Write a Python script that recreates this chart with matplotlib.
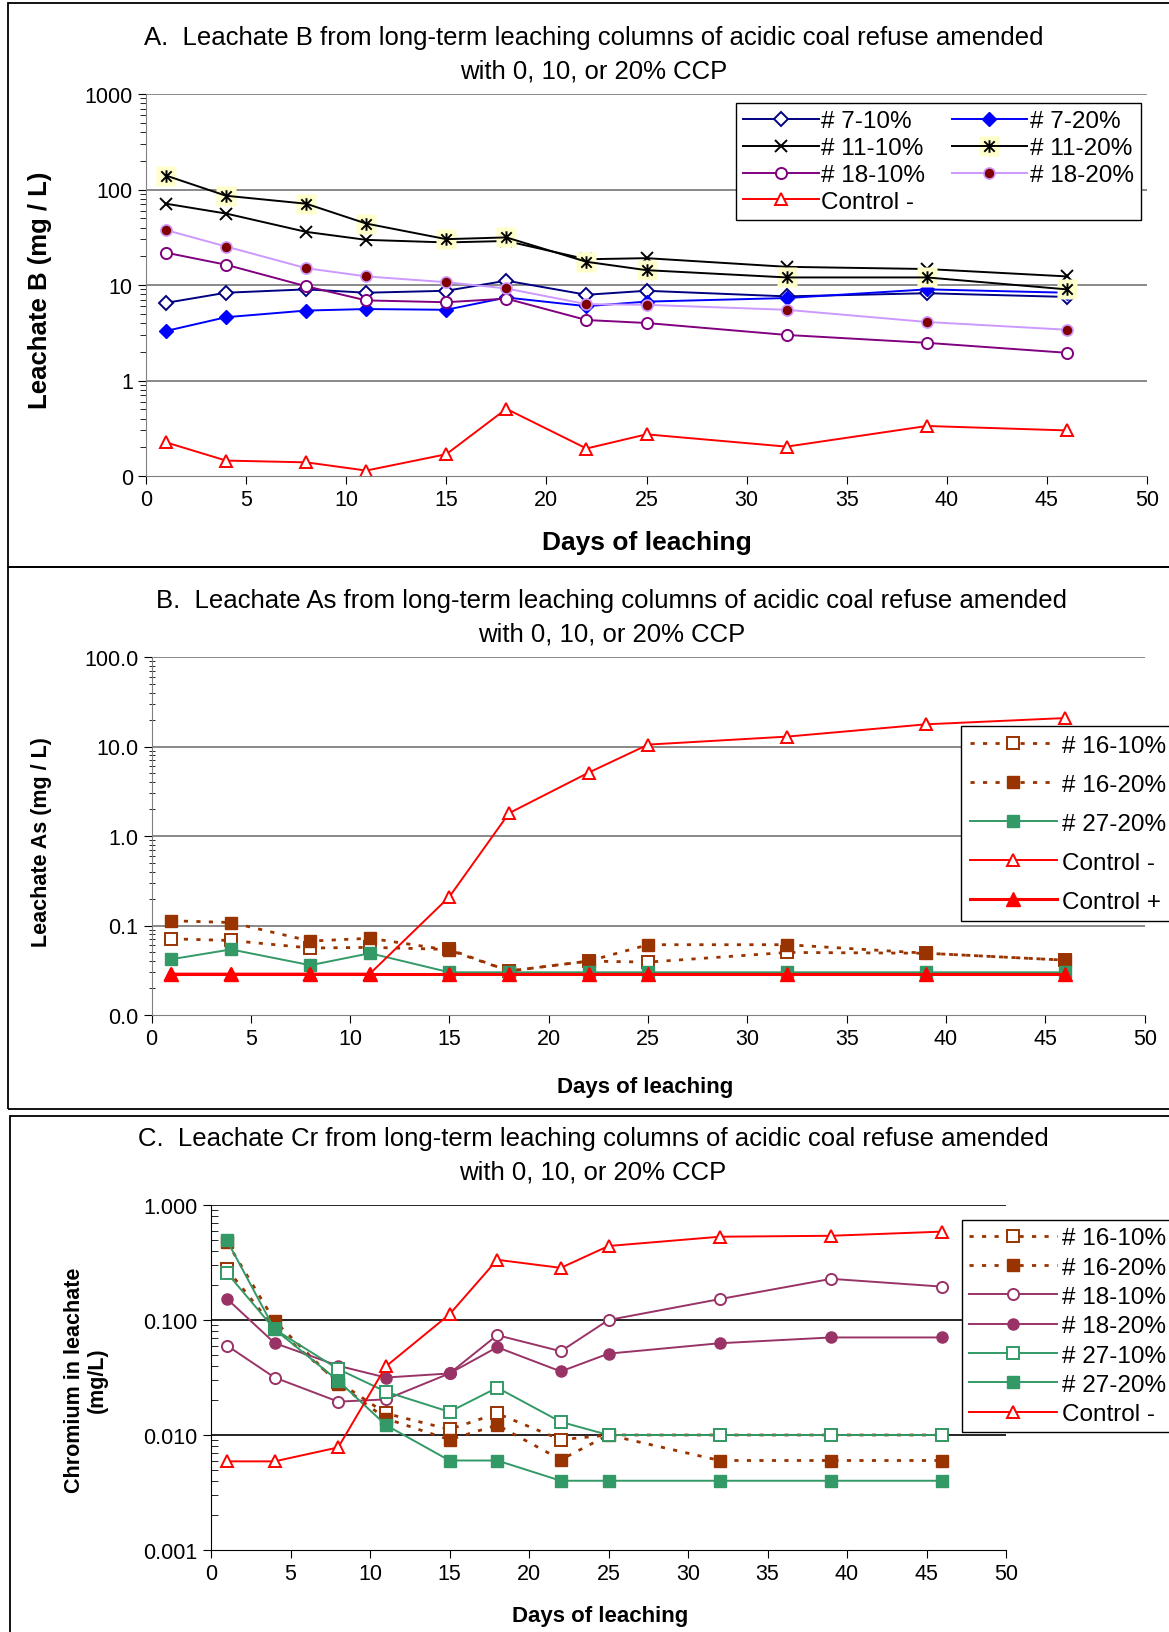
import numpy as np
import matplotlib.pyplot as plt
from matplotlib.path import Path
from matplotlib.patches import Rectangle
from matplotlib.legend_handler import HandlerTuple

plt.rcParams['font.family'] = ['Liberation Sans', 'DejaVu Sans']

# Data (days of leaching)
days = [1, 4, 8, 11, 15, 18, 22, 25, 32, 39, 46]

# Panel A - leachate B (mg/L)
a_7_10 = [6.5, 8.3, 9.0, 8.3, 8.7, 11.1, 7.9, 8.7, 7.6, 8.2, 7.5]
a_7_20 = [3.3, 4.6, 5.4, 5.6, 5.5, 7.4, 6.0, 6.7, 7.3, 9.0, 8.3]
a_11_10 = [71, 56, 36, 29.7, 27.9, 28.9, 18.6, 19.1, 15.5, 14.7, 12.3]
a_11_20 = [140, 86, 71, 44, 30.2, 31.5, 17.5, 14.3, 12.0, 12.0, 9.0]
a_18_10 = [21.8, 16.3, 9.7, 6.9, 6.6, 7.2, 4.3, 4.0, 3.0, 2.48, 1.95]
a_18_20 = [37.6, 25.3, 15.0, 12.3, 10.7, 9.2, 6.3, 6.2, 5.5, 4.1, 3.4]
a_ctrl_neg = [0.225, 0.145, 0.139, 0.114, 0.169, 0.505, 0.194, 0.273, 0.203, 0.334, 0.30]

# Panel B - leachate As (mg/L)
b_16_10 = [0.071, 0.068, 0.056, 0.057, 0.054, 0.031, 0.040, 0.039, 0.050, 0.049, 0.041]
b_16_20 = [0.113, 0.108, 0.067, 0.072, 0.053, 0.031, 0.040, 0.061, 0.061, 0.049, 0.041]
b_27_20 = [0.042, 0.054, 0.036, 0.049, 0.030, 0.030, 0.030, 0.030, 0.030, 0.030, 0.030]
b_ctrl_neg = [0.029, 0.029, 0.029, 0.029, 0.21, 1.8, 5.1, 10.5, 12.9, 17.7, 20.8]
b_ctrl_pos = [0.029, 0.029, 0.029, 0.029, 0.029, 0.029, 0.029, 0.029, 0.029, 0.029, 0.029]

# Panel C - chromium in leachate (mg/L)
c_16_10 = [0.278, 0.085, 0.029, 0.0154, 0.0112, 0.0154, 0.0091, 0.010, 0.010, 0.010, 0.010]
c_16_20 = [0.477, 0.098, 0.028, 0.0139, 0.0091, 0.0122, 0.0061, 0.010, 0.006, 0.006, 0.006]
c_18_10 = [0.060, 0.0316, 0.0195, 0.0204, 0.0343, 0.0738, 0.0535, 0.100, 0.152, 0.228, 0.195]
c_18_20 = [0.153, 0.063, 0.040, 0.0316, 0.0343, 0.058, 0.0357, 0.051, 0.0628, 0.0705, 0.0705]
c_27_10 = [0.257, 0.083, 0.0374, 0.0238, 0.0159, 0.0258, 0.013, 0.010, 0.010, 0.010, 0.010]
c_27_20 = [0.493, 0.083, 0.0296, 0.0122, 0.006, 0.006, 0.004, 0.004, 0.004, 0.004, 0.004]
c_ctrl_neg = [0.0059, 0.0059, 0.0078, 0.0395, 0.112, 0.334, 0.284, 0.44, 0.53, 0.54, 0.587]

W, H = 1169, 1633
fig = plt.figure(figsize=(W / 100, H / 100), dpi=100)

# panel frames
for (x0, y0, x1, y1) in [(8, 4, 1175, 568), (8, 568, 1175, 1110), (10, 1117, 1175, 1640)]:
    fig.patches.append(Rectangle((x0 / W, 1 - y1 / H), (x1 - x0) / W, (y1 - y0) / H,
                                 transform=fig.transFigure, fill=False, ec='black', lw=1.3))


def make_axes(px0, px1, py_top, py_bot):
    ax = fig.add_axes([px0 / W, 1 - py_bot / H, (px1 - px0) / W, (py_bot - py_top) / H])
    ax.set_yscale('log')
    ax.set_xlim(0, 50)
    ax.set_xticks(range(0, 51, 5))
    ax.spines['top'].set_visible(False)
    ax.spines['right'].set_visible(False)
    ax.tick_params(axis='both', which='major', labelsize=15.5, length=6, direction='out')
    return ax


star = Path([(-1, -1), (1, 1), (-1, 1), (1, -1), (0, -1.2), (0, 1.2)],
            [Path.MOVETO, Path.LINETO, Path.MOVETO, Path.LINETO, Path.MOVETO, Path.LINETO])

title_kw = dict(ha='center', va='center', fontsize=18.5, linespacing=1.5)

# ---------------- Panel A ----------------
ax = make_axes(146, 1147, 95, 477)
ax.set_ylim(0.1, 1000)
yt = [0.1, 1, 10, 100, 1000]
ax.set_yticks(yt, ['0', '1', '10', '100', '1000'])
ax.tick_params(axis='y', which='minor', length=4, direction='out')
ax.yaxis.set_minor_formatter(plt.NullFormatter())
for v in yt[1:]:
    ax.axhline(v, color='#808080', lw=1.3, zorder=1)
ax.spines['left'].set_color('#808080')
ax.spines['bottom'].set_color('#808080')

lw = 1.4
h1, = ax.plot(days, a_7_10, color='#000080', lw=lw, marker='D', ms=7, mfc='white', mec='#000080', mew=1.4)
h2, = ax.plot(days, a_7_20, color='#0000FF', lw=lw, marker='D', ms=7, mfc='#0000FF', mec='#0000FF')
h3, = ax.plot(days, a_11_10, color='black', lw=lw, marker='x', ms=9, mew=1.4)
bg, = ax.plot(days, a_11_20, ls='none', marker='s', ms=15, mfc='#FFFFCC', mec='none', zorder=3)
h4, = ax.plot(days, a_11_20, color='black', lw=lw, marker=star, ms=9, mew=1.4, mfc='none', mec='black', zorder=4)
h5, = ax.plot(days, a_18_10, color='#800080', lw=lw, marker='o', ms=8, mfc='white', mec='#800080', mew=1.4)
h6, = ax.plot(days, a_18_20, color='#CC99FF', lw=lw, marker='o', ms=8, mfc='#800000', mec='#CC99FF', mew=1.2)
h7, = ax.plot(days, a_ctrl_neg, color='#FF0000', lw=lw, marker='^', ms=9, mfc='white', mec='#FF0000', mew=1.4)

ax.legend([h1, h3, h5, h7, h2, (bg, h4), h6],
          ['# 7-10%', '# 11-10%', '# 18-10%', 'Control -', '# 7-20%', '# 11-20%', '# 18-20%'],
          handler_map={tuple: HandlerTuple(ndivide=1)},
          ncol=2, loc='upper left', bbox_to_anchor=(736 / W, 1 - 104 / H), bbox_transform=fig.transFigure,
          fontsize=17.5, frameon=True, fancybox=False, framealpha=1, edgecolor='black',
          handlelength=3.1, handletextpad=0.1, labelspacing=0.2, columnspacing=1.1, borderpad=0.3,
          borderaxespad=0)
fig.text(594 / W, 1 - 55 / H, 'A.  Leachate B from long-term leaching columns of acidic coal refuse amended\n'
         'with 0, 10, or 20% CCP', **title_kw)
fig.text(647 / W, 1 - 543 / H, 'Days of leaching', ha='center', va='center', fontsize=19, fontweight='bold')
fig.text(40 / W, 1 - 290 / H, 'Leachate B (mg / L)', ha='center', va='center', rotation=90,
         fontsize=18.5, fontweight='bold')

# ---------------- Panel B ----------------
ax = make_axes(151.5, 1144.7, 658, 1016)
ax.set_ylim(0.01, 100)
yt = [0.01, 0.1, 1, 10, 100]
ax.set_yticks(yt, ['0.0', '0.1', '1.0', '10.0', '100.0'])
ax.tick_params(axis='y', which='minor', length=5, direction='inout')
ax.yaxis.set_minor_formatter(plt.NullFormatter())
for v in yt[1:]:
    ax.axhline(v, color='#808080', lw=1.3, zorder=1)
ax.spines['left'].set_color('#808080')
ax.spines['bottom'].set_color('#808080')

dot = (0, (1.5, 3))
g1, = ax.plot(days, b_16_10, color='#993300', lw=2, ls=dot, marker='s', ms=8, mfc='white', mec='#993300', mew=1.4)
g2, = ax.plot(days, b_16_20, color='#993300', lw=2, ls=dot, marker='s', ms=8, mfc='#993300', mec='#993300')
g3, = ax.plot(days, b_27_20, color='#339966', lw=lw, marker='s', ms=8, mfc='#339966', mec='#339966')
g4, = ax.plot(days, b_ctrl_neg, color='#FF0000', lw=lw, marker='^', ms=9, mfc='white', mec='#FF0000', mew=1.4)
g5, = ax.plot(days, b_ctrl_pos, color='#FF0000', lw=2.2, marker='^', ms=10, mfc='#FF0000', mec='#FF0000')
ax.legend([g1, g2, g3, g4, g5], ['# 16-10%', '# 16-20%', '# 27-20%', 'Control -', 'Control +'],
          loc='upper left', bbox_to_anchor=(961 / W, 1 - 727 / H), bbox_transform=fig.transFigure,
          fontsize=17.5, frameon=True, fancybox=False, framealpha=1, edgecolor='black',
          handlelength=3.6, handletextpad=0.2, labelspacing=0.7, borderpad=0.35, borderaxespad=0)
fig.text(612 / W, 1 - 618 / H, 'B.  Leachate As from long-term leaching columns of acidic coal refuse amended\n'
         'with 0, 10, or 20% CCP', **title_kw)
fig.text(645 / W, 1 - 1088 / H, 'Days of leaching', ha='center', va='center', fontsize=16, fontweight='bold')
fig.text(42 / W, 1 - 842 / H, 'Leachate As (mg / L)', ha='center', va='center', rotation=90,
         fontsize=15.5, fontweight='bold')

# ---------------- Panel C ----------------
ax = make_axes(211, 1006, 1206, 1551)
ax.set_ylim(0.001, 1)
yt = [0.001, 0.01, 0.1, 1]
ax.set_yticks(yt, ['0.001', '0.010', '0.100', '1.000'])
ax.tick_params(axis='y', which='minor', length=5, direction='in')
ax.yaxis.set_minor_formatter(plt.NullFormatter())
for v in yt[1:]:
    ax.axhline(v, color='black', lw=1.2, zorder=1)

k1, = ax.plot(days, c_16_10, color='#993300', lw=2, ls=dot, marker='s', ms=8, mfc='white', mec='#993300', mew=1.4)
k2, = ax.plot(days, c_16_20, color='#993300', lw=2, ls=dot, marker='s', ms=8, mfc='#993300', mec='#993300')
k3, = ax.plot(days, c_18_10, color='#993366', lw=lw, marker='o', ms=8, mfc='white', mec='#993366', mew=1.4)
k4, = ax.plot(days, c_18_20, color='#993366', lw=lw, marker='o', ms=8, mfc='#993366', mec='#993366')
k5, = ax.plot(days, c_27_10, color='#339966', lw=lw, marker='s', ms=8, mfc='white', mec='#339966', mew=1.4)
k6, = ax.plot(days, c_27_20, color='#339966', lw=lw, marker='s', ms=8, mfc='#339966', mec='#339966')
k7, = ax.plot(days, c_ctrl_neg, color='#FF0000', lw=lw, marker='^', ms=9, mfc='white', mec='#FF0000', mew=1.4)
ax.legend([k1, k2, k3, k4, k5, k6, k7],
          ['# 16-10%', '# 16-20%', '# 18-10%', '# 18-20%', '# 27-10%', '# 27-20%', 'Control -'],
          loc='upper left', bbox_to_anchor=(962 / W, 1 - 1221 / H), bbox_transform=fig.transFigure,
          fontsize=17.5, frameon=True, fancybox=False, framealpha=1, edgecolor='black',
          handlelength=3.6, handletextpad=0.2, labelspacing=0.3, borderpad=0.3, borderaxespad=0)
fig.text(593 / W, 1 - 1156 / H, 'C.  Leachate Cr from long-term leaching columns of acidic coal refuse amended\n'
         'with 0, 10, or 20% CCP', **title_kw)
fig.text(600 / W, 1 - 1617 / H, 'Days of leaching', ha='center', va='center', fontsize=16, fontweight='bold')
fig.text(86 / W, 1 - 1380 / H, 'Chromium in leachate\n(mg/L)', ha='center', va='center', rotation=90,
         fontsize=15.5, fontweight='bold', linespacing=1.15)

fig.savefig('out.png', dpi=100)
